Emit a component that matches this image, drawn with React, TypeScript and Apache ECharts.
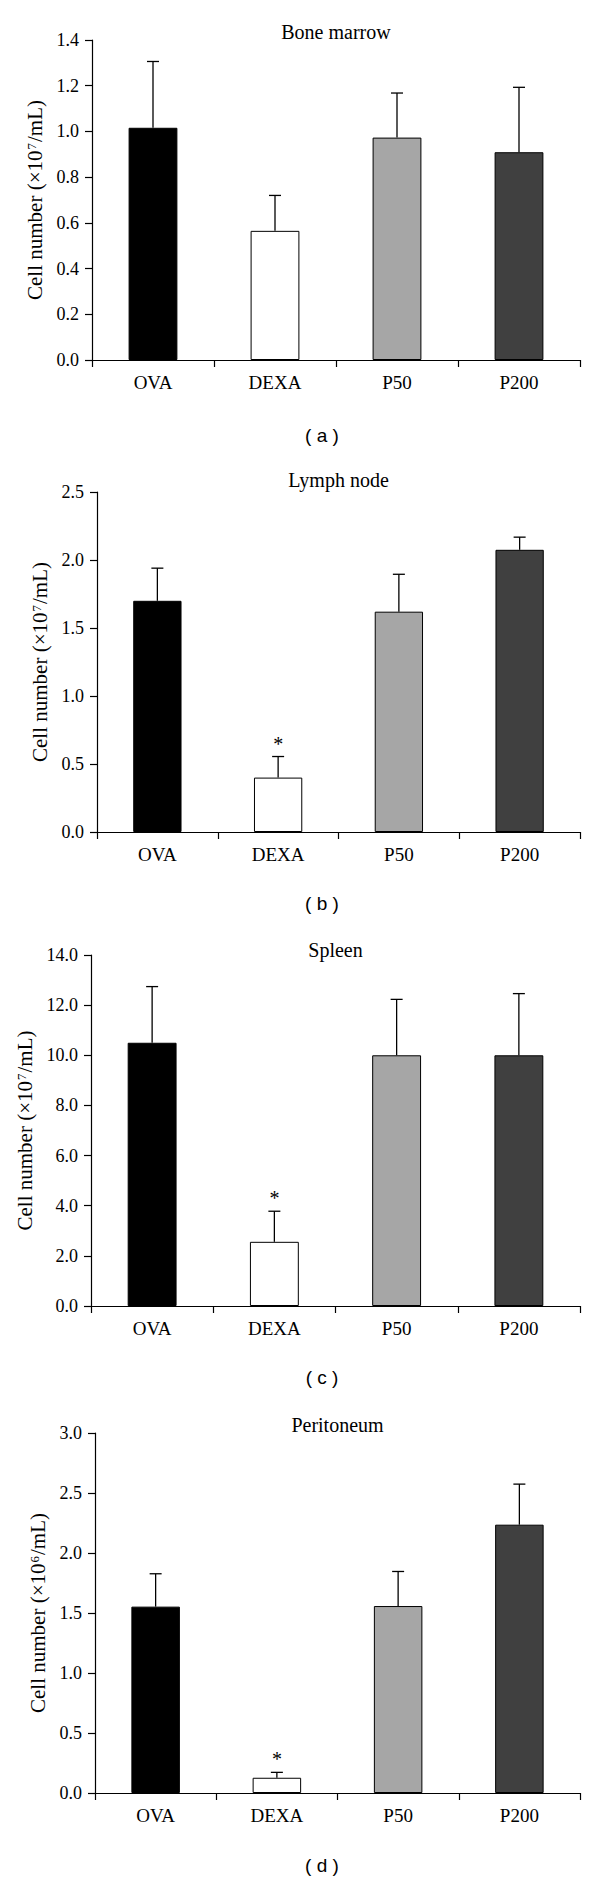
import React, { useEffect, useRef } from 'react';
import * as echarts from 'echarts';

const categories = ['OVA', 'DEXA', 'P50', 'P200'];
const barColors = ['#000000', '#ffffff', '#a6a6a6', '#404040'];

const panelTitles = ['Bone marrow', 'Lymph node', 'Spleen', 'Peritoneum'];
const panelCaptions = ['( a )', '( b )', '( c )', '( d )'];
const yAxisNames = [
  'Cell number (×10{sup|7}/mL)',
  'Cell number (×10{sup|7}/mL)',
  'Cell number (×10{sup|7}/mL)',
  'Cell number (×10{sup|6}/mL)',
];

const boneMean = [1.016, 0.565, 0.973, 0.909];
const boneErr = [0.29, 0.155, 0.195, 0.284];
const boneStar = [false, false, false, false];

const lymphMean = [1.70, 0.40, 1.62, 2.075];
const lymphErr = [0.24, 0.155, 0.275, 0.093];
const lymphStar = [false, true, false, false];

const spleenMean = [10.5, 2.56, 10.0, 10.0];
const spleenErr = [2.24, 1.22, 2.23, 2.46];
const spleenStar = [false, true, false, false];

const peritMean = [1.553, 0.127, 1.558, 2.236];
const peritErr = [0.274, 0.045, 0.288, 0.338];
const peritStar = [false, true, false, false];

const yMax = [1.4, 2.5, 14, 3.0];
const yInterval = [0.2, 0.5, 2, 0.5];

const means = [boneMean, lymphMean, spleenMean, peritMean];
const errs = [boneErr, lymphErr, spleenErr, peritErr];
const stars = [boneStar, lymphStar, spleenStar, peritStar];

// layout (pixels)
const gridLeft = [92, 97, 91, 95];
const gridTop = [40, 492, 955, 1433];
const gridHeight = [320, 340, 351, 360];
const gridRight = 20;
const titleY = [32, 480, 950, 1425];
const captionY = [435, 903, 1377, 1865];

const SERIF = '"Liberation Serif", "Times New Roman", serif';
const SANS = '"Liberation Sans", Arial, sans-serif';

export default function App() {
  const ref = useRef<HTMLDivElement>(null);

  useEffect(() => {
    if (!ref.current) return;
    const chart = echarts.init(ref.current, undefined, { renderer: 'svg' });

    const grids: any[] = [];
    const xAxes: any[] = [];
    const yAxes: any[] = [];
    const series: any[] = [];
    const graphics: any[] = [];

    for (let p = 0; p < 4; p++) {
      grids.push({
        left: gridLeft[p],
        right: gridRight,
        top: gridTop[p],
        height: gridHeight[p],
        containLabel: false,
      });
      xAxes.push({
        type: 'category',
        gridIndex: p,
        data: categories,
        boundaryGap: true,
        axisLine: { show: true, lineStyle: { color: '#000', width: 1.2 } },
        axisTick: { show: true, alignWithLabel: false, length: 7, lineStyle: { color: '#000', width: 1.2 } },
        axisLabel: { color: '#000', fontFamily: SERIF, fontSize: 19, margin: 13 },
        splitLine: { show: false },
      });
      yAxes.push({
        type: 'value',
        gridIndex: p,
        min: 0,
        max: yMax[p],
        interval: yInterval[p],
        name: yAxisNames[p],
        nameLocation: 'middle',
        nameRotate: 90,
        nameGap: 46,
        nameTextStyle: {
          color: '#000',
          fontFamily: SERIF,
          fontSize: 21,
          rich: {
            sup: {
              color: '#000',
              fontFamily: SERIF,
              fontSize: 13,
              verticalAlign: 'top',
              padding: [0, 1, 6, 1],
            },
          },
        },
        axisLine: { show: true, lineStyle: { color: '#000', width: 1.2 } },
        axisTick: { show: true, length: 7, lineStyle: { color: '#000', width: 1.2 } },
        axisLabel: {
          color: '#000',
          fontFamily: SERIF,
          fontSize: 18,
          margin: 13,
          formatter: (v: number) => v.toFixed(1),
        },
        splitLine: { show: false },
      });
      series.push({
        type: 'bar',
        xAxisIndex: p,
        yAxisIndex: p,
        barWidth: '40%',
        data: means[p].map((v, i) => ({
          value: v,
          itemStyle: { color: barColors[i], borderColor: '#000', borderWidth: 1 },
        })),
        z: 2,
      });
      series.push({
        type: 'custom',
        xAxisIndex: p,
        yAxisIndex: p,
        z: 3,
        data: means[p].map((v, i) => [i, v, errs[p][i], stars[p][i] ? 1 : 0]),
        renderItem: (params: any, api: any) => {
          const idx = api.value(0);
          const m = api.value(1);
          const e = api.value(2);
          const s = api.value(3);
          const base = api.coord([idx, m]);
          const top = api.coord([idx, m + e]);
          const cx = base[0];
          const children: any[] = [
            {
              type: 'line',
              shape: { x1: cx, y1: base[1], x2: cx, y2: top[1] },
              style: { stroke: '#000', lineWidth: 1.3 },
            },
            {
              type: 'line',
              shape: { x1: cx - 6, y1: top[1], x2: cx + 6, y2: top[1] },
              style: { stroke: '#000', lineWidth: 1.3 },
            },
          ];
          if (s) {
            children.push({
              type: 'text',
              style: {
                text: '*',
                x: cx,
                y: top[1] - 13,
                textAlign: 'center',
                textVerticalAlign: 'middle',
                font: `20px ${SERIF}`,
                fill: '#000',
              },
            });
          }
          return { type: 'group', children };
        },
      });

      const plotCenter = (gridLeft[p] + (600 - gridRight)) / 2;
      graphics.push({
        type: 'text',
        style: {
          text: panelTitles[p],
          x: plotCenter,
          y: titleY[p],
          textAlign: 'center',
          textVerticalAlign: 'middle',
          font: `20px ${SERIF}`,
          fill: '#000',
        },
      });
      graphics.push({
        type: 'text',
        style: {
          text: panelCaptions[p],
          x: 322,
          y: captionY[p],
          textAlign: 'center',
          textVerticalAlign: 'middle',
          font: `19px ${SANS}`,
          fill: '#000',
        },
      });
    }

    chart.setOption({
      animation: false,
      backgroundColor: '#ffffff',
      grid: grids,
      xAxis: xAxes,
      yAxis: yAxes,
      series,
      graphic: graphics,
    });

    return () => {
      chart.dispose();
    };
  }, []);

  return (
    <div
      ref={ref}
      style={{ position: 'absolute', left: 0, top: 0, width: 600, height: 1882 }}
    />
  );
}
